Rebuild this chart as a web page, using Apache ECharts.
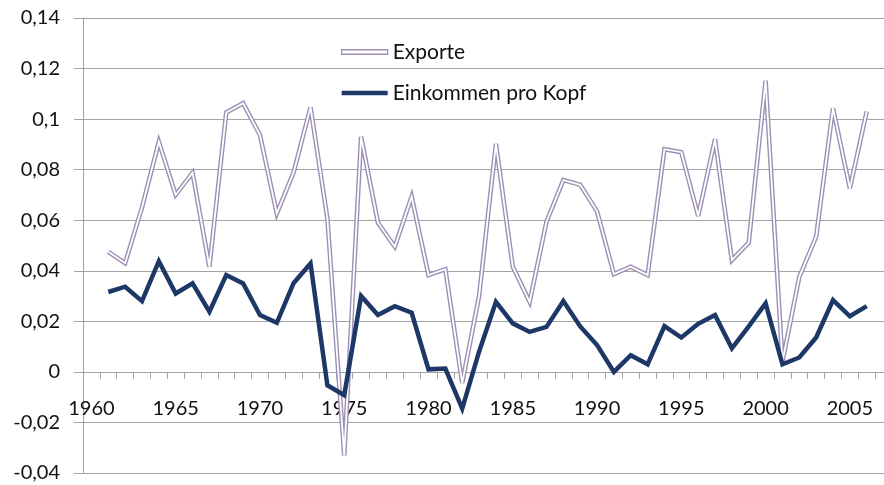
<!DOCTYPE html>
<html>
<head>
<meta charset="utf-8">
<script src="https://cdn.jsdelivr.net/npm/echarts@6/dist/echarts.min.js"></script>
<style>
  html, body { margin: 0; padding: 0; background: #fff; }
  #chart { width: 884px; height: 485px; }
</style>
</head>
<body>
<div id="chart"></div>
<script>
// category axis runs 1960..2007, data only for 1961..2006
const years = ['1960', '1961', '1962', '1963', '1964', '1965', '1966', '1967', '1968', '1969',
    '1970', '1971', '1972', '1973', '1974', '1975', '1976', '1977', '1978', '1979',
    '1980', '1981', '1982', '1983', '1984', '1985', '1986', '1987', '1988', '1989',
    '1990', '1991', '1992', '1993', '1994', '1995', '1996', '1997', '1998', '1999',
    '2000', '2001', '2002', '2003', '2004', '2005', '2006', '2007'];

const exporte = [null,
    0.0475, 0.043, 0.065, 0.091, 0.070, 0.0788, 0.0416, 0.1026, 0.1063,
    0.0937, 0.0627, 0.079, 0.1047, 0.0607, -0.033, 0.093, 0.059, 0.0495, 0.0693,
    0.0383, 0.0406, -0.0044, 0.030, 0.0902, 0.0416, 0.0277, 0.0594, 0.0759, 0.074,
    0.0635, 0.0387, 0.0416, 0.0383, 0.0881, 0.0869, 0.0617, 0.092, 0.0442, 0.0511,
    0.1152, 0.004, 0.0376, 0.0535, 0.1043, 0.0726, 0.103,
    null];

const einkommen = [null,
    0.0316, 0.0337, 0.028, 0.0438, 0.031, 0.035, 0.0238, 0.0383, 0.035,
    0.0225, 0.0194, 0.0352, 0.0429, -0.0053, -0.0092, 0.030, 0.0225, 0.026, 0.0234,
    0.001, 0.0013, -0.0145, 0.008, 0.0277, 0.0192, 0.0158, 0.0178, 0.028, 0.018,
    0.0106, 0.0, 0.0066, 0.003, 0.0181, 0.0136, 0.019, 0.0225, 0.0093, 0.018,
    0.0271, 0.003, 0.0057, 0.0136, 0.0284, 0.022, 0.026,
    null];

const yMin = -0.04, yMax = 0.14, yStep = 0.02;

const purple = '#9d8fb6';
const navy = '#1d3767';
const gridGray = '#a3a3a3';
const font = 'Lato, "Liberation Sans", sans-serif';

const gridTop = 18, gridBottom = 12, H = 485;
// move the category axis up to the zero line
const zeroShift = (H - gridTop - gridBottom) * (0 - yMin) / (yMax - yMin);

var chartDom = document.getElementById('chart');
var myChart = echarts.init(chartDom);

let fmt = (v) => String(+v.toFixed(2)).replace('.', ',');

let option = {
    animation: false,
    grid: { left: 83, right: -8, top: gridTop, bottom: gridBottom, outerBoundsMode: 'none', containLabel: false },
    legend: {
        orient: 'vertical',
        left: 336,
        top: 36,
        itemGap: 19,
        itemWidth: 46,
        textStyle: { fontFamily: font, fontSize: 21, color: '#111', lineHeight: 22 },
        data: [
            { name: 'Exporte', icon: 'rect', itemHeight: 5,
              itemStyle: { color: '#fff', borderColor: purple, borderWidth: 1.3 } },
            { name: 'Einkommen pro Kopf', icon: 'rect',
              itemStyle: { color: navy, borderWidth: 0 } }
        ],
        itemHeight: 4.5
    },
    xAxis: {
        type: 'category',
        data: years,
        boundaryGap: true,
        offset: -zeroShift,
        axisLine: { onZero: false, lineStyle: { color: gridGray, width: 1 } },
        axisTick: { show: true, interval: 0, alignWithLabel: false, length: 7,
            lineStyle: { color: gridGray } },
        axisLabel: { interval: 4, margin: 27, fontFamily: font, fontSize: 20, color: '#111' },
        splitLine: { show: false }
    },
    yAxis: {
        type: 'value',
        min: yMin,
        max: yMax,
        interval: yStep,
        axisLine: { show: true, lineStyle: { color: gridGray, width: 1 } },
        axisTick: { show: true, length: 9, lineStyle: { color: gridGray } },
        axisLabel: { margin: 23, fontFamily: font, fontSize: 20, color: '#111', formatter: fmt },
        splitLine: { show: true, lineStyle: { color: gridGray, width: 1 } }
    },
    series: [
        {
            name: 'Exporte',
            type: 'line',
            data: exporte,
            symbol: 'none',
            lineStyle: { color: purple, width: 4.6, join: 'miter', miterLimit: 4 },
            itemStyle: { color: purple }
        },
        {
            name: 'Exporte-innen',
            type: 'line',
            data: exporte,
            symbol: 'none',
            silent: true,
            lineStyle: { color: '#fff', width: 1.8, join: 'miter', miterLimit: 4 }
        },
        {
            name: 'Einkommen pro Kopf',
            type: 'line',
            data: einkommen,
            symbol: 'none',
            lineStyle: { color: navy, width: 4.5, join: 'miter', miterLimit: 4 },
            itemStyle: { color: navy }
        }
    ]
};

option && myChart.setOption(option);
</script>
</body>
</html>
